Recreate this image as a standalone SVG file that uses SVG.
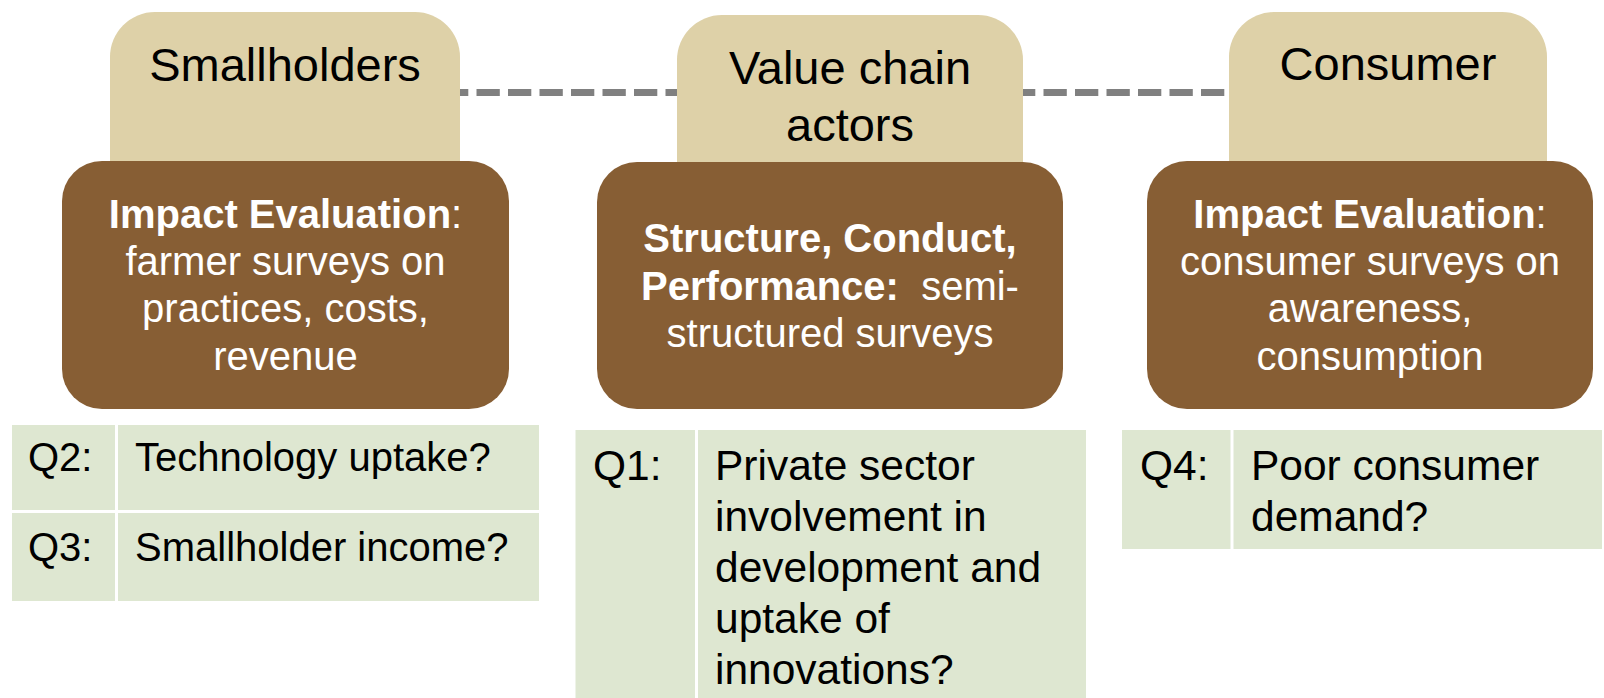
<svg xmlns="http://www.w3.org/2000/svg" width="1604" height="698" viewBox="0 0 1604 698">
  <style>
    text { font-family: "Liberation Sans", Arial, sans-serif; }
    .tab { fill: #DED1A8; }
    .card { fill: #875E34; }
    .title { font-size: 47px; fill: #000; text-anchor: middle; }
    .body { font-size: 40px; fill: #fff; text-anchor: middle; }
    .b { font-weight: bold; }
    .cell { fill: #DEE7D1; }
    .sep { stroke: #fff; stroke-width: 3; }
    .q { font-size: 40px; fill: #000; }
    .q2 { font-size: 42.5px; fill: #000; }
    .link { stroke: #808080; stroke-width: 7; stroke-dasharray: 23.3 8.2; fill: none; }
  </style>

  <rect width="1604" height="698" fill="#fff"/>

  <!-- dashed link running behind the three header tabs -->
  <g id="connectors">
    <line class="link" x1="445" y1="92.5" x2="1245" y2="92.5"/>
  </g>

  <!-- Smallholders column -->
  <g id="smallholders">
    <rect class="tab" x="110" y="12" width="350" height="200" rx="45"/>
    <text class="title" x="285" y="81">Smallholders</text>
    <rect class="card" x="62" y="161" width="447" height="248" rx="40"/>
    <text class="body" x="285.5" y="228"><tspan class="b">Impact Evaluation</tspan>:</text>
    <text class="body" x="285.5" y="275">farmer surveys on</text>
    <text class="body" x="285.5" y="322">practices, costs,</text>
    <text class="body" x="285.5" y="370">revenue</text>
  </g>

  <!-- Value chain actors column -->
  <g id="value-chain">
    <rect class="tab" x="677" y="15" width="346" height="200" rx="45"/>
    <text class="title" x="850" y="84">Value chain</text>
    <text class="title" x="850" y="141">actors</text>
    <rect class="card" x="597" y="162" width="466" height="247" rx="40"/>
    <text class="body" x="830" y="252"><tspan class="b">Structure, Conduct,</tspan></text>
    <text class="body" x="830" y="300" xml:space="preserve"><tspan class="b">Performance:</tspan>  semi-</text>
    <text class="body" x="830" y="347">structured surveys</text>
  </g>

  <!-- Consumer column -->
  <g id="consumer">
    <rect class="tab" x="1229" y="12" width="318" height="200" rx="45"/>
    <text class="title" x="1388" y="80">Consumer</text>
    <rect class="card" x="1147" y="161" width="446" height="248" rx="40"/>
    <text class="body" x="1370" y="228"><tspan class="b">Impact Evaluation</tspan>:</text>
    <text class="body" x="1370" y="275">consumer surveys on</text>
    <text class="body" x="1370" y="322">awareness,</text>
    <text class="body" x="1370" y="370">consumption</text>
  </g>

  <!-- Question tables -->
  <g id="table-q2-q3">
    <rect class="cell" x="12" y="425" width="527" height="176"/>
    <line class="sep" x1="116.5" y1="425" x2="116.5" y2="601"/>
    <line class="sep" x1="12" y1="511.5" x2="539" y2="511.5"/>
    <text class="q" x="28" y="471">Q2:</text>
    <text class="q" x="135" y="471">Technology uptake?</text>
    <text class="q" x="28" y="561">Q3:</text>
    <text class="q" x="135" y="561">Smallholder income?</text>
  </g>

  <g id="table-q1">
    <rect class="cell" x="575.5" y="430" width="510.5" height="268"/>
    <line class="sep" x1="696.5" y1="430" x2="696.5" y2="698"/>
    <text class="q2" x="593" y="480">Q1:</text>
    <text class="q2" x="715" y="480">Private sector</text>
    <text class="q2" x="715" y="531">involvement in</text>
    <text class="q2" x="715" y="582">development and</text>
    <text class="q2" x="715" y="633">uptake of</text>
    <text class="q2" x="715" y="684">innovations?</text>
  </g>

  <g id="table-q4">
    <rect class="cell" x="1122" y="430" width="480" height="119"/>
    <line class="sep" x1="1232" y1="430" x2="1232" y2="549"/>
    <text class="q2" x="1140" y="480">Q4:</text>
    <text class="q2" x="1251" y="480">Poor consumer</text>
    <text class="q2" x="1251" y="531">demand?</text>
  </g>
</svg>
